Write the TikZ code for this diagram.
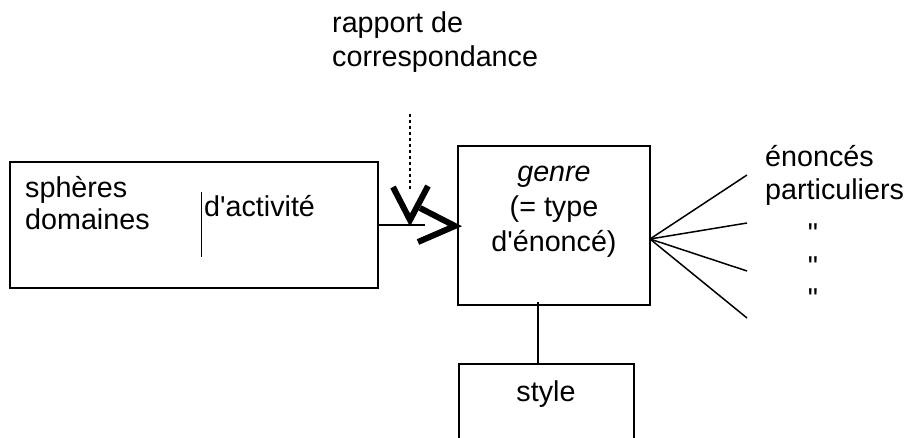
\documentclass[tikz,border=0pt]{standalone}
\usepackage{fontspec}
\setmainfont{Liberation Sans}[Ligatures=TeXOff]
\begin{document}
\begin{tikzpicture}[x=1pt,y=-1pt,
  box/.style={draw,line width=2.2pt,rectangle,inner sep=0pt},
  txt/.style={inner sep=0pt,anchor=base west,font=\fontsize{28.7}{33}\selectfont},
  ctxt/.style={inner sep=0pt,anchor=base,font=\fontsize{28.7}{33}\selectfont},
  thin/.style={line width=1.5pt},
  chev/.style={line width=6pt,line cap=butt,line join=miter}]
\clip (0,0) rectangle (906,438);
\useasboundingbox (0,0) rectangle (906,438);

% boxes
\node[box,minimum width=368pt,minimum height=126pt] (sph) at (194,225) {};
\node[box,minimum width=192pt,minimum height=159pt] (genre) at (554,225.5) {};
\node[box,minimum width=175pt,minimum height=120pt,anchor=north west] (style) at (458,363) {};

% labels
\node[txt] (rap1) at (332,33) {rapport de};
\node[txt] (rap2) at (332,67) {correspondance};
\node[txt] (sph1) at (25,198) {sphères};
\node[txt] (sph2) at (25,230) {domaines};
\node[txt] (act) at (204,217) {d'activité};
\node[ctxt] (g1) at (554,182) {\itshape genre};
\node[ctxt] (g2) at (554,217) {(= type};
\node[ctxt] (g3) at (554,252) {d'énoncé)};
\node[ctxt] (sty) at (546,402) {style};
\node[txt] (en1) at (765,167) {énoncés};
\node[txt] (en2) at (765,200) {particuliers};
\node[ctxt] (q1) at (813,244) {"};
\node[ctxt] (q2) at (813,277) {"};
\node[ctxt] (q3) at (813,309) {"};

% bar between the two columns of the left box
\coordinate (bart) at (201.5,192);
\coordinate (barb) at (201.5,257);
\draw[line width=1.8pt] (bart) -- (barb);

% correspondence arrow into the genre box
\coordinate (arrend) at (425,225);
\draw[line width=2.2pt] (sph.east |- arrend) -- (arrend);
\coordinate (ca) at (420,208);
\coordinate (ct) at (455,226);
\coordinate (cb) at (418,242);
\draw[chev] (ca) -- (ct) -- (cb);
\coordinate (va) at (393,187);
\coordinate (vt) at (410,220);
\coordinate (vb) at (428,186);
\draw[chev] (va) -- (vt) -- (vb);
\coordinate (dtop) at (410,114);
\coordinate (dbot) at (410,189);
\draw[line width=2.5pt,dash pattern=on 3pt off 3pt] (dtop) -- (dbot);

% fan towards the particular utterances
\coordinate (fan) at (650,239);
\coordinate (e1) at (747,175);
\coordinate (e2) at (747,223);
\coordinate (e3) at (747,271);
\coordinate (e4) at (747,318);
\foreach \e in {e1,e2,e3,e4} \draw[thin] (fan) -- (\e);

% genre to style
\coordinate (gs) at (538,302);
\draw[thin] (gs) -- (gs |- style.north);
\end{tikzpicture}
\end{document}
